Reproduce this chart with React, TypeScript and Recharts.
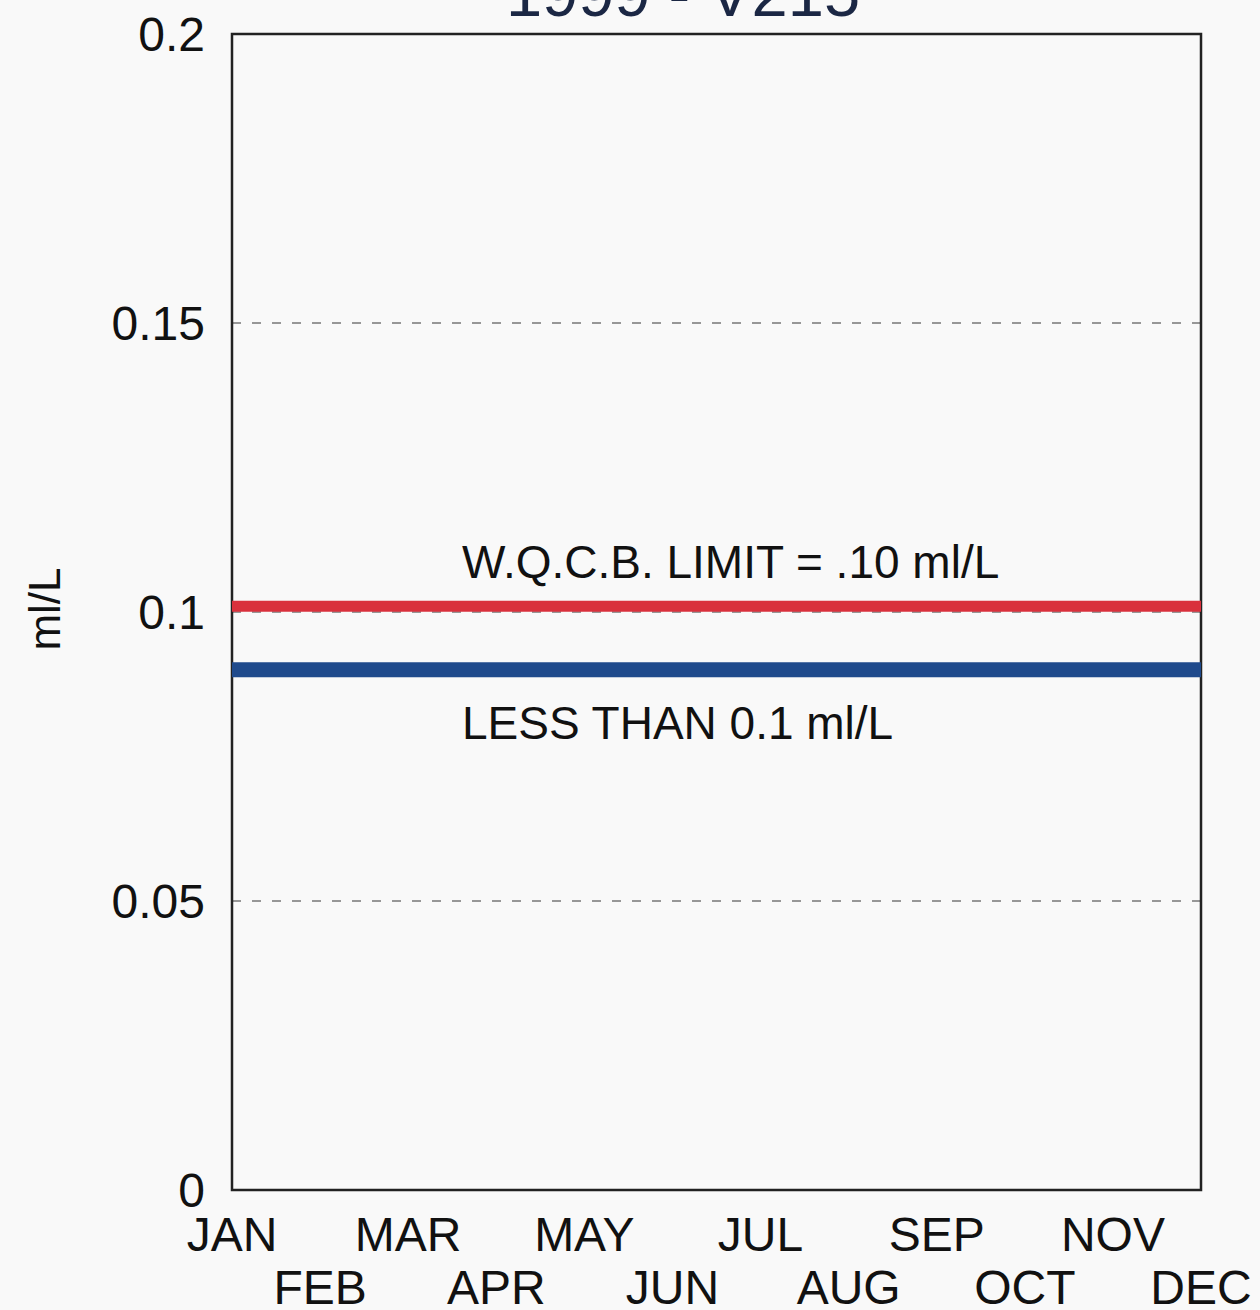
import React from 'react';
import { LineChart, Line, XAxis, YAxis, CartesianGrid, ReferenceArea, Customized } from 'recharts';

const months = ['JAN', 'FEB', 'MAR', 'APR', 'MAY', 'JUN', 'JUL', 'AUG', 'SEP', 'OCT', 'NOV', 'DEC'];
const limitValues = [0.101, 0.101, 0.101, 0.101, 0.101, 0.101, 0.101, 0.101, 0.101, 0.101, 0.101, 0.101];
const lessThanValues = [0.09, 0.09, 0.09, 0.09, 0.09, 0.09, 0.09, 0.09, 0.09, 0.09, 0.09, 0.09];
const yTicks = [0, 0.05, 0.1, 0.15, 0.2];
const title = '1999 - V215';
const limitText = 'W.Q.C.B. LIMIT = .10 ml/L';
const lessText = 'LESS THAN 0.1 ml/L';
const yLabel = 'ml/L';

const data = months.map((m, i) => ({ month: m, limit: limitValues[i], less: lessThanValues[i] }));

const FONT = '"Liberation Sans", Arial, sans-serif';

const MonthTick = (props: any) => {
  const { x, y, payload, index } = props;
  const row = index % 2 === 0 ? 0 : 1;
  return (
    <text x={x} y={y + 53 + row * 53} textAnchor="middle" fontFamily={FONT} fontSize={48} fill="#111">
      {payload.value}
    </text>
  );
};

const ValueTick = (props: any) => {
  const { x, y, payload } = props;
  const v = payload.value;
  const s = v === 0 ? '0' : String(v);
  return (
    <text x={205} y={y + 17} textAnchor="end" fontFamily={FONT} fontSize={48} fill="#111">
      {s}
    </text>
  );
};

const Annotations = () => (
  <g>
    <text x={683} y={16} textAnchor="middle" fontFamily={FONT} fontSize={65} fill="#1b2744">{title}</text>
    <text x={462} y={578} fontFamily={FONT} fontSize={46} fill="#111">{limitText}</text>
    <text x={462} y={739} fontFamily={FONT} fontSize={46} fill="#111">{lessText}</text>
    <text x={60} y={609} textAnchor="middle" fontFamily={FONT} fontSize={44} fill="#111" transform="rotate(-90 60 609)">{yLabel}</text>
  </g>
);

export default function App() {
  return (
    <div style={{ position: 'absolute', left: 0, top: 0, width: 1260, height: 1310, background: '#f9f9f9' }}>
      <LineChart width={1260} height={1310} data={data} margin={{ top: 34, right: 59, bottom: 0, left: 0 }}>
        <CartesianGrid vertical={false} stroke="#777" strokeDasharray="9 11" strokeWidth={1.5} />
        <XAxis dataKey="month" interval={0} tick={<MonthTick />} tickLine={false} axisLine={false} height={120} />
        <YAxis domain={[0, 0.2]} ticks={yTicks} tick={<ValueTick />} tickLine={false} axisLine={false} width={232} />
        <ReferenceArea x1="JAN" x2="DEC" y1={0} y2={0.2} fill="none" stroke="#222" strokeWidth={2.5} ifOverflow="visible" />
        <Line dataKey="limit" stroke="#d9303c" strokeWidth={11} dot={false} isAnimationActive={false} />
        <Line dataKey="less" stroke="#1f4a8c" strokeWidth={15} dot={false} isAnimationActive={false} />
        <Customized component={Annotations} />
      </LineChart>
    </div>
  );
}
